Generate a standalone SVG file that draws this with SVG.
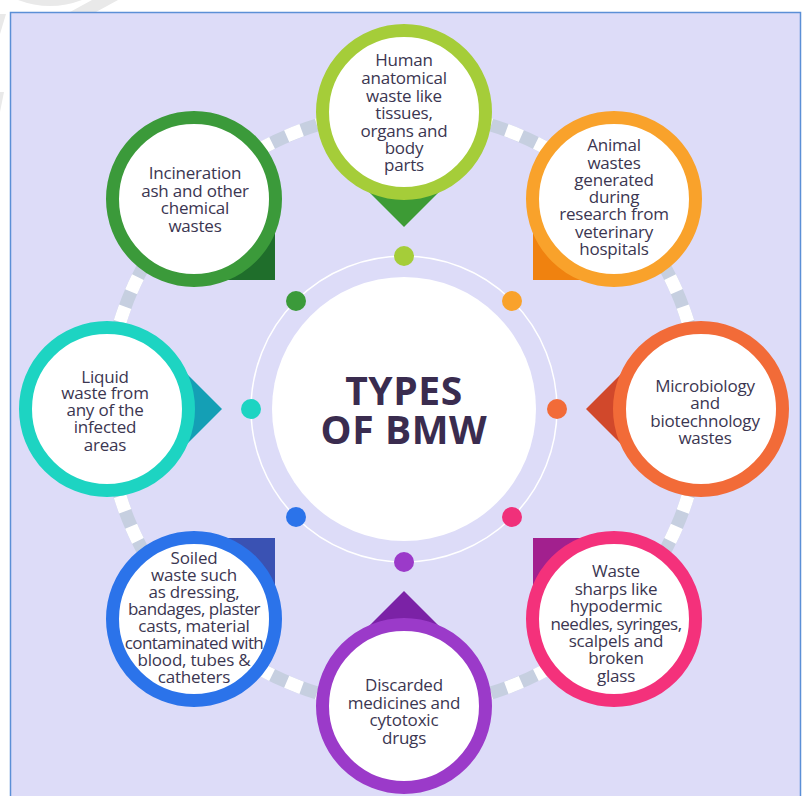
<svg xmlns="http://www.w3.org/2000/svg" width="805" height="796" viewBox="0 0 805 796">
<style>
.ring{fill:#ffffff;stroke-width:13}
.t{font-family:"Open Sans","Liberation Sans",sans-serif;font-size:17px;font-weight:500;fill:#3b3651;text-anchor:middle;letter-spacing:-0.2px}
.title{font-family:"Open Sans","Liberation Sans",sans-serif;font-size:39px;font-weight:700;fill:#3a2c4f;text-anchor:middle;letter-spacing:0.6px}
</style>
<rect x="0" y="0" width="805" height="796" fill="#ffffff"/>
<g id="watermark" fill="#e9e9e9">
<path d="M18,0 Q50,12 82,0 Z"/>
<polygon points="92,0 118,0 96,12 70,12"/>
<polygon points="0,14 6,14 0,34"/>
<polygon points="0,92 4,92 0,112"/>
</g>
<rect x="10.5" y="12.5" width="790" height="800" fill="#dddcf8" stroke="#5b8fd6" stroke-width="1.5"/>
<g id="connectors">
<circle cx="404" cy="409" r="297" fill="none" stroke="#c6cfe0" stroke-width="13"/>
<circle cx="404" cy="409" r="297" fill="none" stroke="#ffffff" stroke-width="13" stroke-dasharray="16.08 16.08" stroke-dashoffset="8"/>
<circle cx="404" cy="409" r="153" fill="none" stroke="#ffffff" stroke-width="1.5"/>
<circle cx="404" cy="256" r="10" fill="#a5cd39"/>
<circle cx="512" cy="301" r="10" fill="#f9a22b"/>
<circle cx="557" cy="409" r="10" fill="#f26b38"/>
<circle cx="512" cy="517" r="10" fill="#f0307a"/>
<circle cx="404" cy="562" r="10" fill="#9b3ac9"/>
<circle cx="296" cy="517" r="10" fill="#2b73ea"/>
<circle cx="251" cy="409" r="10" fill="#1dd4c2"/>
<circle cx="296" cy="301" r="10" fill="#3b9a3a"/>
</g>
<g id="center">
<circle cx="404" cy="409" r="132" fill="#ffffff"/>
<text class="title" x="404" y="405">TYPES</text>
<text class="title" x="404" y="444">OF BMW</text>
</g>
<g id="node-human">
<polygon points="404,112 461.5,169.5 404,227 346.5,169.5" fill="#3d9b35"/>
<circle class="ring" cx="404" cy="112" r="81.5" stroke="#a5cd39"/>
<text class="t" x="404" y="66">Human</text>
<text class="t" x="404" y="84">anatomical</text>
<text class="t" x="404" y="101.5">waste like</text>
<text class="t" x="404" y="119">tissues,</text>
<text class="t" x="404" y="136.5">organs and</text>
<text class="t" x="404" y="154">body</text>
<text class="t" x="404" y="171">parts</text>
</g>
<g id="node-animal">
<rect x="533" y="199" width="81" height="81" fill="#f0820f"/>
<circle class="ring" cx="614" cy="199" r="81.5" stroke="#f9a22b"/>
<text class="t" x="614" y="151">Animal</text>
<text class="t" x="614" y="168.5">wastes</text>
<text class="t" x="614" y="186">generated</text>
<text class="t" x="614" y="203">during</text>
<text class="t" x="614" y="220">research from</text>
<text class="t" x="614" y="237.5">veterinary</text>
<text class="t" x="614" y="255">hospitals</text>
</g>
<g id="node-micro">
<polygon points="701,409 643.5,351.5 586,409 643.5,466.5" fill="#d1482b"/>
<circle class="ring" cx="701" cy="409" r="81.5" stroke="#f26b38"/>
<text class="t" x="705" y="392">Microbiology</text>
<text class="t" x="705" y="409">and</text>
<text class="t" x="705" y="427">biotechnology</text>
<text class="t" x="705" y="444">wastes</text>
</g>
<g id="node-sharps">
<rect x="533" y="538" width="81" height="81" fill="#a2208e"/>
<circle class="ring" cx="614" cy="619" r="81.5" stroke="#f4317b"/>
<text class="t" x="616" y="577">Waste</text>
<text class="t" x="616" y="595">sharps like</text>
<text class="t" x="616" y="612">hypodermic</text>
<text class="t" x="616" y="630" style="letter-spacing:-0.5px">needles, syringes,</text>
<text class="t" x="616" y="647">scalpels and</text>
<text class="t" x="616" y="664">broken</text>
<text class="t" x="616" y="682">glass</text>
</g>
<g id="node-medicines">
<polygon points="404,706 461.5,648.5 404,591 346.5,648.5" fill="#7b22a6"/>
<circle class="ring" cx="404" cy="706" r="81.5" stroke="#9b3ac9"/>
<text class="t" x="404" y="691">Discarded</text>
<text class="t" x="404" y="709">medicines and</text>
<text class="t" x="404" y="726">cytotoxic</text>
<text class="t" x="404" y="744">drugs</text>
</g>
<g id="node-soiled">
<rect x="194" y="538" width="81" height="81" fill="#3a52b3"/>
<circle class="ring" cx="194" cy="619" r="81.5" stroke="#2b73ea"/>
<text class="t" x="194" y="564">Soiled</text>
<text class="t" x="194" y="581">waste such</text>
<text class="t" x="194" y="598">as dressing,</text>
<text class="t" x="194" y="615" style="letter-spacing:-0.5px">bandages, plaster</text>
<text class="t" x="194" y="632">casts, material</text>
<text class="t" x="194" y="649" style="letter-spacing:-0.6px">contaminated with</text>
<text class="t" x="194" y="666">blood, tubes &amp;</text>
<text class="t" x="194" y="683">catheters</text>
</g>
<g id="node-liquid">
<polygon points="107,409 164.5,351.5 222,409 164.5,466.5" fill="#149fb5"/>
<circle class="ring" cx="107" cy="409" r="81.5" stroke="#1dd4c2"/>
<text class="t" x="105" y="383">Liquid</text>
<text class="t" x="105" y="399">waste from</text>
<text class="t" x="105" y="416">any of the</text>
<text class="t" x="105" y="433">infected</text>
<text class="t" x="105" y="451">areas</text>
</g>
<g id="node-incineration">
<rect x="194" y="199" width="81" height="81" fill="#1f6e2b"/>
<circle class="ring" cx="194" cy="199" r="81.5" stroke="#3b9a3a"/>
<text class="t" x="195" y="179">Incineration</text>
<text class="t" x="195" y="197">ash and other</text>
<text class="t" x="195" y="214">chemical</text>
<text class="t" x="195" y="232">wastes</text>
</g>
</svg>
